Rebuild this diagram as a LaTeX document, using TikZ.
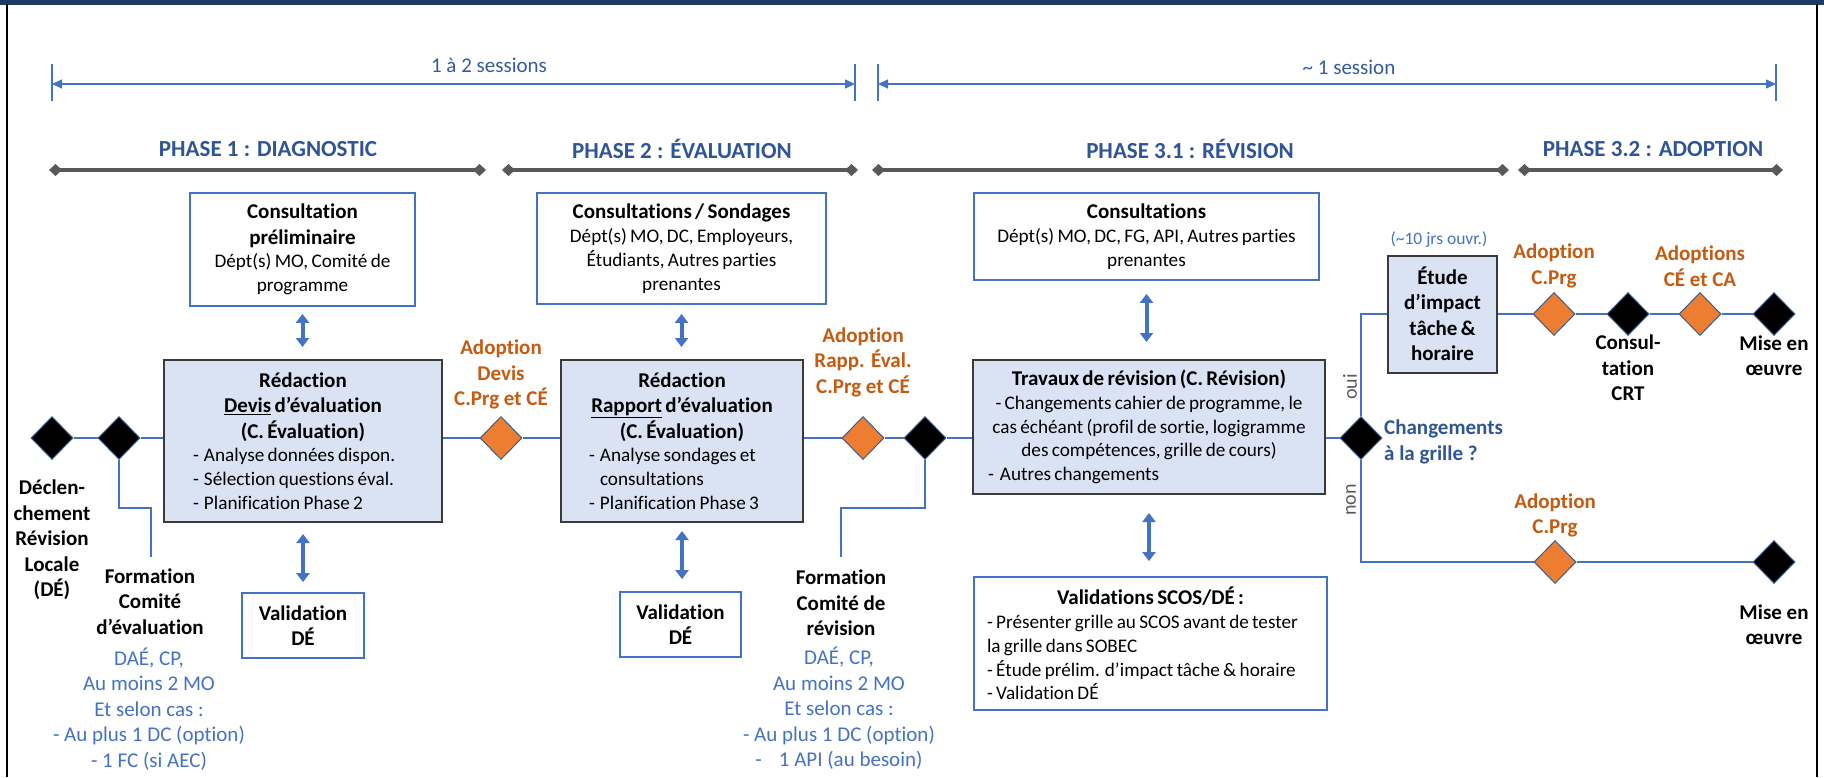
\documentclass[tikz,border=0pt]{standalone}
\usepackage{fontspec}
\setmainfont{Carlito}[Ligatures={TeX,NoCommon}]
\usetikzlibrary{arrows.meta,shapes.geometric}
\setlength\parindent{0pt}
\definecolor{bl}{HTML}{4472C4}
\definecolor{dkbl}{HTML}{2F5597}
\definecolor{navy}{HTML}{203864}
\definecolor{boxfill}{HTML}{DAE3F3}
\definecolor{boxline}{HTML}{3A3A3A}
\definecolor{orgfill}{HTML}{ED7D31}
\definecolor{orgtext}{HTML}{C55A11}
\definecolor{diaedge}{HTML}{385D8A}
\definecolor{phasegray}{HTML}{595959}
\newcommand\myH{\fontsize{21}{25.5}\selectfont\bfseries}
\newcommand\myB{\fontsize{19.2}{23.8}\selectfont}
\newcommand\myL{\fontsize{21}{25.5}\selectfont}
\newcommand\itm[1]{\makebox[11pt][l]{-}#1}
\tikzset{
  conn/.style={draw=bl, line width=1.5pt},
  dbl/.style={draw=bl, line width=4pt, arrows={Triangle[length=9pt,width=13pt]-Triangle[length=9pt,width=13pt]}},
  sess/.style={draw=bl, line width=1.3pt, arrows={Triangle[length=10pt,width=9pt]-Triangle[length=10pt,width=9pt]}},
  sessend/.style={draw=bl, line width=1.3pt},
  phasebar/.style={draw=phasegray, line width=4pt, arrows={Diamond[length=13pt,width=12pt]-Diamond[length=13pt,width=12pt]}},
  phaselbl/.style={font=\fontsize{23}{27}\selectfont\bfseries, text=dkbl, inner sep=0pt},
  sesslbl/.style={font=\myL, text=dkbl!80!bl, inner sep=0pt},
  whitebox/.style={draw=bl, line width=1.8pt, fill=white, inner sep=0pt},
  bluebox/.style={draw=boxline, line width=2pt, fill=boxfill, inner sep=0pt},
  blkdia/.style={diamond, minimum width=42pt, minimum height=43pt, inner sep=0pt, fill=black, draw=diaedge, line width=1pt},
  orgdia/.style={diamond, minimum width=42pt, minimum height=43pt, inner sep=0pt, fill=orgfill, draw=diaedge, line width=1pt},
  lblb/.style={font=\myH, align=center, inner sep=0pt},
  lblo/.style={font=\myH, text=orgtext, align=center, inner sep=0pt},
  lblblue/.style={font=\myL, text=bl, align=center, inner sep=0pt},
  lblbb/.style={font=\myH, text=dkbl, align=left, inner sep=0pt},
  yesno/.style={font=\fontsize{20}{24}\selectfont, text=phasegray, rotate=90, inner sep=0pt}
}
\begin{document}
\begin{tikzpicture}[x=1pt,y=-1pt]
\useasboundingbox (0,0) rectangle (1824,777);
\fill[white] (0,0) rectangle (1824,777);
\fill[navy] (0,0) rectangle (1824,4.5);
\draw[black, line width=1.5pt] (7,4) -- (7,777);
\draw[black, line width=1.5pt] (1817,4) -- (1817,777);

% session arrows
\draw[sess] (52,84) -- (855,84);
\draw[sess] (878,84) -- (1776,84);
\foreach \x in {52,855,878,1776} \draw[sessend] (\x,64) -- (\x,101);
\node[sesslbl] (s1) at (489,65) {1 à 2 sessions};
\node[sesslbl] (s2) at (1349,67) {\textasciitilde\ 1 session};

% phases
\node[phaselbl] (p1) at (268,149) {PHASE 1 : DIAGNOSTIC};
\node[phaselbl] (p2) at (682,149) {PHASE 2 : ÉVALUATION};
\node[phaselbl] (p31) at (1190,149) {PHASE 3.1 : RÉVISION};
\node[phaselbl] (p32) at (1653,149) {PHASE 3.2 : ADOPTION};
\draw[phasebar] (49,170) -- (486,170);
\draw[phasebar] (502,170) -- (858,170);
\draw[phasebar] (872,170) -- (1509,170);
\draw[phasebar] (1518,170) -- (1783,170);

% top white boxes
\node[whitebox, minimum width=225pt, minimum height=113pt, text width=223pt] (CP) at (302.5,249.5)
 {{\centering\myH Consultation\\préliminaire\par}{\centering\myB Dépt(s) MO, Comité de\\programme\par}};
\node[whitebox, minimum width=289pt, minimum height=111pt, text width=287pt] (CS) at (681.5,248.5)
 {{\centering\myH Consultations / Sondages\par}{\centering\myB Dépt(s) MO, DC, Employeurs,\\Étudiants, Autres parties\\prenantes\par}};
\node[whitebox, minimum width=345pt, minimum height=87pt, text width=343pt] (CO) at (1146.5,236.5)
 {{\centering\myH Consultations\par}{\centering\myB Dépt(s) MO, DC, FG, API, Autres parties\\prenantes\par}};

% main blue boxes
\node[bluebox, minimum width=278pt, minimum height=162pt, text width=276pt] (RD) at (303,441)
 {{\centering\myH Rédaction\\\underline{Devis} d’évaluation\\(C. Évaluation)\par}
  {\myB\raggedright\leftskip=28pt \itm{Analyse données dispon.}\\\itm{Sélection questions éval.}\\\itm{Planification Phase 2}\par}};
\node[bluebox, minimum width=242pt, minimum height=162pt, text width=240pt] (RR) at (682,441)
 {{\centering\myH Rédaction\\\underline{Rapport} d’évaluation\\(C. Évaluation)\par}
  {\myB\raggedright\leftskip=27pt \itm{Analyse sondages et}\\\hspace*{11pt}consultations\\\itm{Planification Phase 3}\par}};
\node[bluebox, minimum width=352pt, minimum height=134pt, text width=350pt] (TR) at (1149,427)
 {{\centering\myH Travaux de révision (C. Révision)\par}
  {\centering\myB - Changements cahier de programme, le\\cas échéant (profil de sortie, logigramme\\des compétences, grille de cours)\par}
  {\myB\raggedright\leftskip=14pt \makebox[12pt][l]{-}Autres changements\par}};
\node[bluebox, minimum width=109pt, minimum height=117pt, text width=107pt] (ET) at (1442.5,314)
 {{\centering\myH Étude\\d’impact\\tâche \&\\horaire\par}};

% bottom white boxes
\node[whitebox, minimum width=122pt, minimum height=65pt, text width=120pt] (VD1) at (303,625.5)
 {{\centering\myH Validation\\DÉ\par}};
\node[whitebox, minimum width=121pt, minimum height=65pt, text width=119pt] (VD2) at (680.5,624.5)
 {{\centering\myH Validation\\DÉ\par}};
\node[whitebox, minimum width=353pt, minimum height=133pt, text width=351pt] (VS) at (1150.5,643.5)
 {{\centering\myH Validations SCOS/DÉ :\par}
  {\myB\raggedright\leftskip=12pt - Présenter grille au SCOS avant de tester\\la grille dans SOBEC\\- Étude prélim. d’impact tâche \& horaire\\- Validation DÉ\par}};

% double arrows
\draw[dbl, shorten <=7pt, shorten >=12pt] (CP.south) -- (CP.south |- RD.north);
\draw[dbl, shorten <=9pt, shorten >=12pt] (CS.south) -- (CS.south |- RR.north);
\draw[dbl, shorten <=13pt, shorten >=17pt] (CO.south) -- (CO.south |- TR.north);
\draw[dbl, shorten <=11pt, shorten >=10pt] (RD.south) -- (RD.south |- VD1.north);
\draw[dbl, shorten <=8pt, shorten >=12pt] (RR.south) -- (RR.south |- VD2.north);
\draw[dbl, shorten <=18pt, shorten >=15pt] (TR.south) -- (TR.south |- VS.north);

% diamonds
\node[blkdia] (D0) at (52,438) {};
\node[blkdia] (D1) at (119,438) {};
\node[orgdia] (O1) at (501,438) {};
\node[orgdia] (O2) at (863,438) {};
\node[blkdia] (D2) at (925,438) {};
\node[blkdia] (D3) at (1361,438) {};
\node[orgdia] (O3) at (1554,314) {};
\node[blkdia] (D4) at (1628,314) {};
\node[orgdia] (O4) at (1700,314) {};
\node[blkdia] (D5) at (1774,314) {};
\node[orgdia] (O5) at (1555,562) {};
\node[blkdia] (D6) at (1774,562) {};
\coordinate (F1) at (151,557);
\coordinate (F2) at (841,557);

% connectors
\draw[conn] (D0.east) -- (D1.west);
\draw[conn] (D1.east) -- (D1 -| RD.west);
\draw[conn] (RD.east |- O1) -- (O1.west);
\draw[conn] (O1.east) -- (O1 -| RR.west);
\draw[conn] (RR.east |- O2) -- (O2.west);
\draw[conn] (O2.east) -- (D2.west);
\draw[conn] (D2.east) -- (D2 -| TR.west);
\draw[conn] (TR.east |- D3) -- (D3.west);
\draw[conn] (D1.south) -- ++(0,48) -| (F1);
\draw[conn] (D2.south) -- ++(0,48) -| (F2);
\draw[conn] (D3.north) |- (ET.west);
\draw[conn] (ET.east) -- (O3.west);
\draw[conn] (O3.east) -- (D4.west);
\draw[conn] (D4.east) -- (O4.west);
\draw[conn] (O4.east) -- (D5.west);
\draw[conn] (D3.south) |- (O5.west);
\draw[conn] (O5.east) -- (D6.west);

% labels
\node[lblb] (tdecl) at (52,540) {Déclen-\\chement\\Révision\\Locale\\(DÉ)};
\node[lblb] (tform1) at (150,601.5) {Formation\\Comité\\d’évaluation};
\node[lblblue] (tcomp1) at (149,709) {DAÉ, CP,\\Au moins 2 MO\\Et selon cas :\\- Au plus 1 DC (option)\\- 1 FC (si AEC)};
\node[lblb] (tform2) at (841,603) {Formation\\Comité de\\révision};
\node[lblblue] (tcomp2) at (839,708.5) {DAÉ, CP,\\Au moins 2 MO\\Et selon cas :\\- Au plus 1 DC (option)\\-\hspace{17pt}1 API (au besoin)};
\node[lblo] (tO1) at (501,374.5) {Adoption\\Devis\\C.Prg et CÉ};
\node[lblo] (tO2) at (863,362) {Adoption\\Rapp. Éval.\\C.Prg et CÉ};
\node[lblo] (tO3) at (1554,266) {Adoption\\C.Prg};
\node[lblo] (tO4) at (1700,266) {Adoptions\\CÉ et CA};
\node[lblo] (tO5) at (1555,515.5) {Adoption\\C.Prg};
\node[lblb] (tD4) at (1628,368) {Consul-\\tation\\CRT};
\node[lblb] (tD5) at (1774,355.5) {Mise en\\œuvre};
\node[lblb] (tD6) at (1774,624.5) {Mise en\\œuvre};
\node[lblbb, anchor=west] (tchg) at (1384,442) {Changements\\à la grille ?};
\node[font=\fontsize{17.5}{21}\selectfont, text=bl, inner sep=0pt] (tjrs) at (1439,240) {(\textasciitilde10 jrs ouvr.)};
\node[yesno] (toui) at (1350,387) {oui};
\node[yesno] (tnon) at (1351,500) {non};
\end{tikzpicture}
\end{document}
